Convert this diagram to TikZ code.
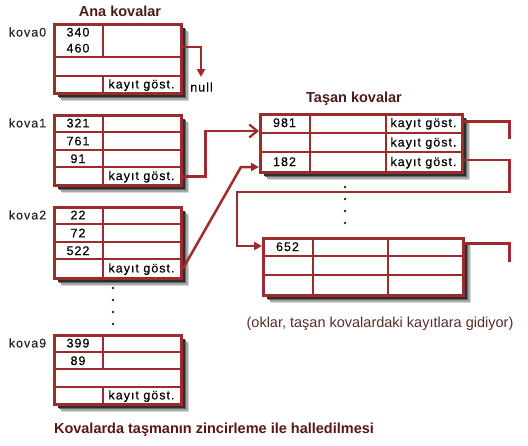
\documentclass[tikz,border=0pt]{standalone}
\usepackage{fontspec}
\setmainfont{Liberation Sans}
\newfontfamily\cellfont[LetterSpace=8,FakeBold=0.3]{Liberation Sans}
\usetikzlibrary{arrows.meta}
\definecolor{boxred}{HTML}{9E2B2B}
\definecolor{titlec}{HTML}{4A1E1E}
\definecolor{capc}{HTML}{5A1616}
\definecolor{notec}{HTML}{5E2A2A}
\begin{document}
\begin{tikzpicture}[x=1pt,y=-1pt,
  bucket/.style={draw=boxred, line width=3pt, fill=white, rectangle,
    inner sep=0pt, anchor=north west},
  cellline/.style={draw=boxred, line width=2pt},
  wire/.style={draw=boxred, line width=2.5pt},
  cell/.style={font=\cellfont\fontsize{12.5}{14}\selectfont, inner sep=0pt, anchor=base, text=black},
  lbl/.style={cell, text=black!85},
  title/.style={font=\bfseries\fontsize{14.5}{17}\selectfont, inner sep=0pt, anchor=base, text=titlec},
  dotm/.style={fill=black!85},
  shA/.style={fill=black!15},
  shB/.style={fill=black!35},
  shC/.style={fill=black!60},
  shD/.style={fill=black!82}
]
\fill[white] (0,0) rectangle (528,445);
\useasboundingbox (0,0) rectangle (528,445);

% shadows (x0,y0,x1,y1 of each box)
\foreach \xa/\ya/\xb/\yb in {53/23/180/92, 53/114/180/184, 53/206/180/277, 53/334/180/403,
                             259/113/461/171, 262/237/462/294} {
  \fill[shA] (\xa+9,\ya+9) rectangle (\xb+9,\yb+9);
  \fill[shB] (\xa+7.5,\ya+7.5) rectangle (\xb+7.5,\yb+7.5);
  \fill[shC] (\xa+6,\ya+6) rectangle (\xb+6,\yb+6);
  \fill[shD] (\xa+4.5,\ya+4.5) rectangle (\xb+4.5,\yb+4.5);
}

% titles
\node[title] (t1) at (120,16) {Ana kovalar};
\node[title] (t2) at (354,102) {Taşan kovalar};
\node[title, text=capc] (cap) at (214,433) {Kovalarda taşmanın zincirleme ile halledilmesi};
\node[title, font=\fontsize{14.5}{17}\selectfont, text=notec] (note) at (380,327) {(oklar, taşan kovalardaki kayıtlara gidiyor)};

% ---------- main buckets ----------
\node[bucket, minimum width=127pt, minimum height=69pt] (k0) at (53,23) {};
\draw[cellline] (53,57) -- (180,57) (53,76) -- (180,76)
  (103,23) -- (103,57) (103,76) -- (103,92);
\node[bucket, minimum width=127pt, minimum height=70pt] (k1) at (53,114) {};
\draw[cellline] (53,132) -- (180,132) (53,150) -- (180,150) (53,167) -- (180,167)
  (103,114) -- (103,184);
\node[bucket, minimum width=127pt, minimum height=71pt] (k2) at (53,206) {};
\draw[cellline] (53,224) -- (180,224) (53,242) -- (180,242) (53,259) -- (180,259)
  (103,206) -- (103,277);
\node[bucket, minimum width=127pt, minimum height=69pt] (k9) at (53,334) {};
\draw[cellline] (53,352) -- (180,352) (53,369) -- (180,369) (53,387) -- (180,387)
  (103,334) -- (103,369) (103,387) -- (103,403);

% labels
\node[lbl] (l0) at (27.5,36.5) {kova0};
\node[lbl] (l1) at (27.5,127.4) {kova1};
\node[lbl] (l2) at (27.5,219.4) {kova2};
\node[lbl] (l9) at (27.5,347.4) {kova9};

% cell texts
\node[cell] (c340) at (78,36.5) {340};
\node[cell] (c460) at (78,52.5) {460};
\node[cell] (k0p) at (141.5,88.4) {kayıt göst.};
\node[cell] (c321) at (78,127.4) {321};
\node[cell] (c761) at (78,145.4) {761};
\node[cell] (c91) at (78,163) {91};
\node[cell] (k1p) at (141.5,180) {kayıt göst.};
\node[cell] (c22) at (78,219.4) {22};
\node[cell] (c72) at (78,237.4) {72};
\node[cell] (c522) at (78,255) {522};
\node[cell] (k2p) at (141.5,272.4) {kayıt göst.};
\node[cell] (c399) at (78,347.4) {399};
\node[cell] (c89) at (78,365) {89};
\node[cell] (k9p) at (141.5,399.4) {kayıt göst.};

% ---------- overflow buckets ----------
\node[bucket, minimum width=202pt, minimum height=58pt] (o1) at (259,113) {};
\draw[cellline] (259,132.5) -- (461,132.5) (259,152) -- (461,152)
  (310,113) -- (310,171) (386,113) -- (386,171);
\node[cell] (c981) at (284.5,127) {981};
\node[cell] (c182) at (284.5,166) {182};
\node[cell] (o1p1) at (423.5,127) {kayıt göst.};
\node[cell] (o1p2) at (423.5,146.5) {kayıt göst.};
\node[cell] (o1p3) at (423.5,166) {kayıt göst.};

\node[bucket, minimum width=200pt, minimum height=57pt] (o2) at (262,237) {};
\draw[cellline] (262,256) -- (462,256) (262,275) -- (462,275)
  (313,237) -- (313,294) (388,237) -- (388,294);
\node[cell] (c652) at (287.5,251) {652};

% dots
\foreach \yy in {187,199,211,223} \fill[dotm] (345,\yy) circle (1.4pt);
\foreach \yy in {288,300,312,324} \fill[dotm] (113,\yy) circle (1.4pt);

% ---------- connectors ----------
\coordinate (nullend) at (201,77);
\node[cell] (nulltxt) at (201.5,91.5) {null};
\draw[wire, -{Triangle[length=8pt,width=8pt]}] (k0.east |- 0,47) -| (nullend);

\draw[wire, -{Straight Barb[length=8pt,width=13pt,line width=2.2pt]}]
  (k1.east |- 0,176.5) -| (205.5,131) -- (o1.west |- 0,131);

\coordinate (bend2) at (241,167);
\draw[wire, -{Triangle[length=8pt,width=8pt]}]
  (k2.east |- 0,268.5) -- (bend2) -- (o1.west |- 0,167);

\draw[wire] (o1.east |- 0,121.5) -| (509.5,139);
\draw[wire, -{Triangle[length=8pt,width=8pt]}]
  (o1.east |- 0,160) -| (509.5,192) -| (237,246) -- (o2.west |- 0,246);
\draw[wire] (o2.east |- 0,243.5) -| (509.5,262);
\end{tikzpicture}
\end{document}
